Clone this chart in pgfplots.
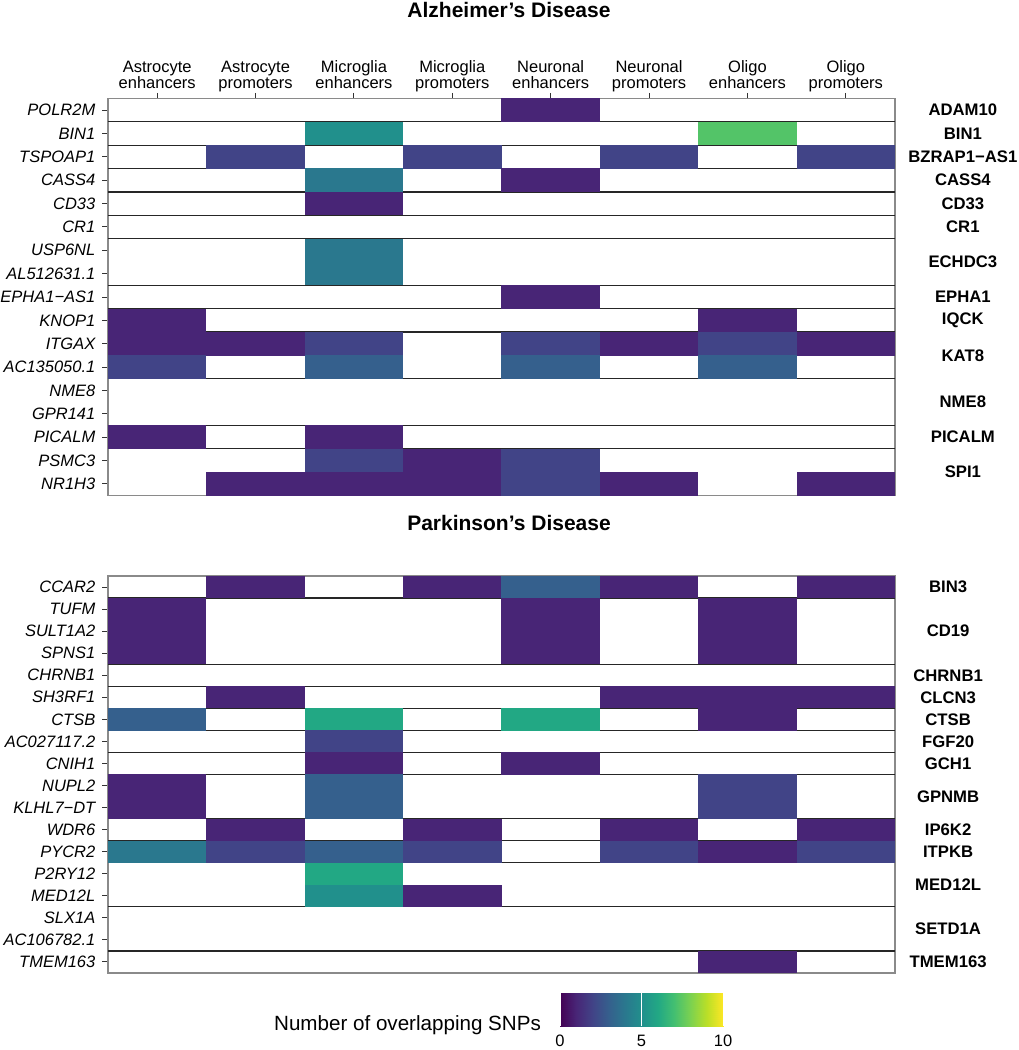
\documentclass[border=0pt]{standalone}
\usepackage{fontspec}
\setmainfont{Liberation Sans}
\usepackage{pgfplots}
\pgfplotsset{compat=1.18}
\definecolor{sep}{HTML}{262626}
\definecolor{frame}{HTML}{8A8A8A}
\definecolor{tk}{HTML}{333333}
\pgfdeclareplotmark{cellAD}{\pgfpathrectangle{\pgfqpoint{-24.65pt}{-5.9pt}}{\pgfqpoint{49.3pt}{11.8pt}}\pgfusepathqfill}
\pgfdeclareplotmark{cellPD}{\pgfpathrectangle{\pgfqpoint{-24.65pt}{-5.57pt}}{\pgfqpoint{49.3pt}{11.14pt}}\pgfusepathqfill}
\tikzset{loc/.style={font=\bfseries\fontsize{8.35}{9}\selectfont, anchor=center}}
\pgfplotsset{
 vir/.style={colormap={vir}{rgb255=(68,1,84) rgb255=(72,37,118) rgb255=(65,68,135) rgb255=(53,96,141) rgb255=(42,120,142) rgb255=(33,144,140) rgb255=(34,168,132) rgb255=(67,191,113) rgb255=(122,209,81) rgb255=(187,223,39) rgb255=(253,231,37)},
  point meta min=0, point meta max=10},
 hm/.style={
  scale only axis, width=393.5pt, height=198.5pt,
  xmin=-0.5, xmax=7.5, y dir=reverse,
  axis on top, clip=false,
  axis line style={draw=frame, line width=0.55pt},
  tick align=outside, major tick length=2.8pt,
  tick style={draw=tk, line width=0.5pt},
  ytick pos=left,
  yticklabel style={font=\fontsize{8.25}{9}\selectfont\itshape},
  vir,
  major grid style={draw=sep, line width=0.6pt},
  extra y tick style={ymajorgrids=true, major tick length=0pt},
  extra y tick labels={},
 },
 hmcells/.style={scatter, only marks, mark=#1, point meta=explicit, scatter/use mapped color={draw=none, fill=mapped color}},
}
\begin{document}
\begin{tikzpicture}
\useasboundingbox (0,0) rectangle (509pt,-525pt);
\node[font=\bfseries\fontsize{10.5}{12}\selectfont] at (254.5pt,-5pt) {Alzheimer's Disease};
\node[font=\bfseries\fontsize{10.5}{12}\selectfont] at (254.5pt,-261.5pt) {Parkinson's Disease};
\begin{axis}[hm, at={(54pt,-49.25pt)}, anchor=north west,
  ymin=-0.5, ymax=16.5,
  ytick={0,...,16},
  yticklabels={POLR2M,BIN1,TSPOAP1,CASS4,CD33,CR1,USP6NL,AL512631.1,EPHA1−AS1,KNOP1,ITGAX,AC135050.1,NME8,GPR141,PICALM,PSMC3,NR1H3},
  xtick={0,...,7}, xtick pos=right, xticklabel pos=right,
  xticklabels={{Astrocyte\\enhancers},{Astrocyte\\promoters},{Microglia\\enhancers},{Microglia\\promoters},{Neuronal\\enhancers},{Neuronal\\promoters},{Oligo\\enhancers},{Oligo\\promoters}},
  xticklabel style={align=center, text depth=2pt, font=\fontsize{8.25}{8}\selectfont, yshift=-3.3pt},
  extra y ticks={0.5,1.5,2.5,3.5,4.5,5.5,7.5,8.5,9.5,11.5,13.5,14.5},
]
\addplot[hmcells=cellAD] table[meta=c] {
x y c
4 0 1
2 1 5
6 1 7.3
1 2 2
3 2 2
5 2 2
7 2 2
2 3 4
4 3 1
2 4 1
2 6 4
2 7 4
4 8 1
0 9 1
6 9 1
0 10 1
1 10 1
2 10 2
4 10 2
5 10 1
6 10 2
7 10 1
0 11 2
2 11 3
4 11 3
6 11 3
0 14 1
2 14 1
2 15 2
3 15 1
4 15 2
1 16 1
2 16 1
3 16 1
4 16 2
5 16 1
7 16 1
};
\node[loc] at (axis cs:8.19,0) {ADAM10};
\node[loc] at (axis cs:8.19,1) {BIN1};
\node[loc] at (axis cs:8.19,2) {BZRAP1−AS1};
\node[loc] at (axis cs:8.19,3) {CASS4};
\node[loc] at (axis cs:8.19,4) {CD33};
\node[loc] at (axis cs:8.19,5) {CR1};
\node[loc] at (axis cs:8.19,6.5) {ECHDC3};
\node[loc] at (axis cs:8.19,8) {EPHA1};
\node[loc] at (axis cs:8.19,9) {IQCK};
\node[loc] at (axis cs:8.19,10.5) {KAT8};
\node[loc] at (axis cs:8.19,12.5) {NME8};
\node[loc] at (axis cs:8.19,14) {PICALM};
\node[loc] at (axis cs:8.19,15.5) {SPI1};
\end{axis}
\begin{axis}[hm, at={(54pt,-288pt)}, anchor=north west,
  ymin=-0.5, ymax=17.5,
  ytick={0,...,17},
  yticklabels={CCAR2,TUFM,SULT1A2,SPNS1,CHRNB1,SH3RF1,CTSB,AC027117.2,CNIH1,NUPL2,KLHL7−DT,WDR6,PYCR2,P2RY12,MED12L,SLX1A,AC106782.1,TMEM163},
  xtick=\empty,
  extra y ticks={0.5,3.5,4.5,5.5,6.5,7.5,8.5,10.5,11.5,12.5,14.5,16.5},
]
\addplot[hmcells=cellPD] table[meta=c] {
x y c
1 0 1
3 0 1
4 0 3
5 0 1
7 0 1
0 1 1
4 1 1
6 1 1
0 2 1
4 2 1
6 2 1
0 3 1
4 3 1
6 3 1
1 5 1
5 5 1
6 5 1
7 5 1
0 6 3
2 6 6
4 6 6
6 6 1
2 7 2
2 8 1
4 8 1
0 9 1
2 9 3
6 9 2
0 10 1
2 10 3
6 10 2
1 11 1
3 11 1
5 11 1
7 11 1
0 12 4
1 12 2
2 12 3
3 12 2
5 12 2
6 12 1
7 12 2
2 13 6
2 14 5
3 14 1
6 17 1
};
\node[loc] at (axis cs:8.04,0) {BIN3};
\node[loc] at (axis cs:8.04,2) {CD19};
\node[loc] at (axis cs:8.04,4) {CHRNB1};
\node[loc] at (axis cs:8.04,5) {CLCN3};
\node[loc] at (axis cs:8.04,6) {CTSB};
\node[loc] at (axis cs:8.04,7) {FGF20};
\node[loc] at (axis cs:8.04,8) {GCH1};
\node[loc] at (axis cs:8.04,9.5) {GPNMB};
\node[loc] at (axis cs:8.04,11) {IP6K2};
\node[loc] at (axis cs:8.04,12) {ITPKB};
\node[loc] at (axis cs:8.04,13.5) {MED12L};
\node[loc] at (axis cs:8.04,15.5) {SETD1A};
\node[loc] at (axis cs:8.04,17) {TMEM163};
\end{axis}
\begin{axis}[at={(280pt,-496.65pt)}, anchor=north west, scale only axis,
  width=81.5pt, height=16.5pt, xmin=0, xmax=10, ymin=0, ymax=1, vir,
  axis on top, axis line style={draw=none}, ytick=\empty,
  xtick={0,5,10}, xtick pos=left, tick align=inside, major tick length=16.5pt,
  xtick style={draw=white, line width=0.45pt},
  xticklabel style={font=\fontsize{8.25}{9}\selectfont, yshift=-0.8pt},
  /pgf/number format/assume math mode=true]
\addplot[surf, shader=interp, mesh/cols=11, point meta=x] coordinates {
(0,0) (1,0) (2,0) (3,0) (4,0) (5,0) (6,0) (7,0) (8,0) (9,0) (10,0)
(0,1) (1,1) (2,1) (3,1) (4,1) (5,1) (6,1) (7,1) (8,1) (9,1) (10,1)
};
\end{axis}
\node[anchor=base east, font=\fontsize{10.3}{12}\selectfont] at (274pt,-515pt) {Number of overlapping SNPs};
\end{tikzpicture}
\end{document}
